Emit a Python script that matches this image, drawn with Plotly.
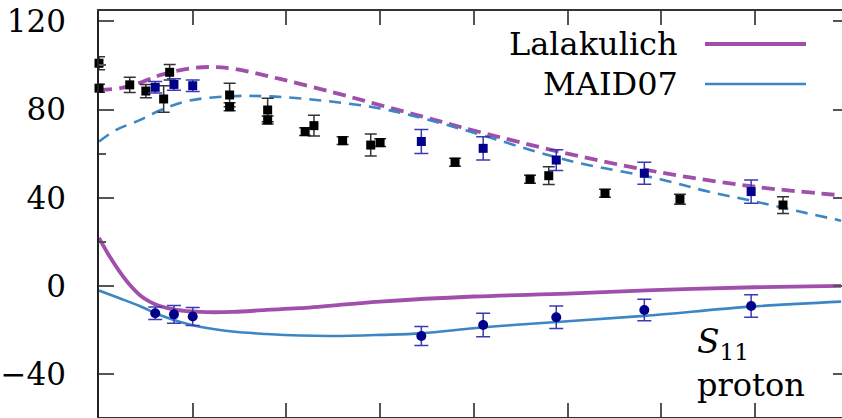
import plotly.graph_objects as go

# ---------------- data ----------------
# Theory curves (Q^2 in GeV^2, amplitude in 10^-3 GeV^-1/2)
lal_a_q2 = [0, 0.12, 0.23, 0.33, 0.48, 0.6, 0.72, 0.96, 1.25, 1.5, 1.75, 2.0, 2.5, 3.0, 3.5, 3.96]
lal_a_val = [88.9, 89.8, 92.5, 95.7, 98.6, 99.3, 98.5, 94.0, 87.8, 82.0, 76.3, 70.5, 60.0, 51.4, 45.0, 41.1]

maid_a_q2 = [0, 0.09, 0.22, 0.33, 0.48, 0.7, 0.9, 1.2, 1.5, 1.75, 2.0, 2.5, 3.0, 3.25, 3.5, 3.75, 3.96]
maid_a_val = [65.5, 70.7, 75.3, 79.8, 84.0, 86.0, 86.0, 84.0, 80.5, 75.5, 69.5, 57.0, 48.3, 42.8, 38.3, 33.5, 29.6]

lal_s_q2 = [0, 0.057, 0.11, 0.164, 0.217, 0.27, 0.324, 0.413, 0.537, 0.713, 0.893, 1.071, 1.5, 2.0, 2.5, 3.0, 3.5, 3.96]
lal_s_val = [21.8, 13.3, 6.5, 0.5, -4.1, -7.1, -9.1, -10.9, -11.8, -11.8, -10.9, -10.1, -7.1, -4.8, -3.5, -1.8, -0.6, 0.0]

maid_s_q2 = [0, 0.11, 0.217, 0.324, 0.43, 0.537, 0.713, 0.893, 1.071, 1.25, 1.5, 1.72, 2.0, 2.21, 2.5, 2.91, 3.48, 3.96]
maid_s_val = [-2.1, -5.6, -9.1, -13.2, -16.2, -18.5, -20.7, -21.8, -22.5, -22.7, -22.2, -21.5, -19.2, -17.7, -16.0, -13.6, -9.4, -7.1]

# World data A1/2 (black squares)
wd_q2 = [0, 0, 0.164, 0.25, 0.345, 0.377, 0.697, 0.697, 0.9, 0.9, 1.10, 1.147, 1.30, 1.45, 1.50, 1.90, 2.30, 2.40, 2.70, 3.10, 3.65]
wd_val = [101.0, 89.7, 91.2, 88.4, 84.8, 96.9, 86.6, 81.3, 79.8, 75.3, 70.0, 72.7, 65.9, 63.9, 65.0, 56.1, 48.4, 50.0, 42.0, 39.3, 36.7]
wd_err = [2.9, 1.8, 3.5, 3.0, 6.0, 3.5, 5.3, 1.8, 5.3, 1.8, 1.8, 4.7, 1.8, 5.0, 1.8, 1.8, 1.8, 4.0, 1.8, 2.3, 3.8]

# CLAS A1/2 (navy squares) and S1/2 (navy circles)
clas_q2 = [0.3, 0.4, 0.5, 1.72, 2.05, 2.44, 2.91, 3.48]
clas_a_val = [90.1, 91.4, 90.8, 65.5, 62.4, 57.1, 51.1, 42.8]
clas_a_err = [2.6, 2.6, 2.6, 5.4, 5.3, 4.7, 5.0, 5.3]
clas_s_val = [-12.4, -12.9, -13.9, -22.7, -17.7, -14.2, -10.9, -9.1]
clas_s_err = [2.8, 4.0, 4.1, 4.3, 5.3, 5.1, 4.9, 5.1]

y_ticks = [120, 80, 40, 0, -40]
y_tick_text = ["120", "80", "40", "0", "\u221240"]
y_minor = [100, 60, 20]
x_ticks = [0.5, 1.0, 1.5, 2.0, 2.5, 3.0, 3.5]

# ---------------- style ----------------
PURPLE = "#a04fab"
BLUE = "#3c87c3"
NAVY = "#00008b"
NAVY_ERR = "#3a3ab4"
FONT = "DejaVu Serif"

W, H = 842, 418
L, R, T, B = 99, 0, 11, 1
PW, PH = W - L - R, H - T - B


def px(x):
    return (x - L) / PW


def py(y):
    return (H - B - y) / PH


fig = go.Figure()

fig.add_trace(go.Scatter(x=lal_a_q2, y=lal_a_val, mode="lines", line_shape="spline",
                         line=dict(color=PURPLE, width=3.8, dash="13px,7px"), showlegend=False))
fig.add_trace(go.Scatter(x=maid_a_q2, y=maid_a_val, mode="lines", line_shape="spline",
                         line=dict(color=BLUE, width=2.6, dash="12px,8px"), showlegend=False))
fig.add_trace(go.Scatter(x=lal_s_q2, y=lal_s_val, mode="lines", line_shape="spline",
                         line=dict(color=PURPLE, width=3.8), showlegend=False))
fig.add_trace(go.Scatter(x=maid_s_q2, y=maid_s_val, mode="lines", line_shape="spline",
                         line=dict(color=BLUE, width=2.6), showlegend=False))

fig.add_trace(go.Scatter(x=wd_q2, y=wd_val, mode="markers", cliponaxis=False,
                         marker=dict(symbol="square", size=9, color="black"),
                         error_y=dict(type="data", array=wd_err, color="#333333", thickness=1.5, width=6),
                         showlegend=False))
fig.add_trace(go.Scatter(x=clas_q2, y=clas_a_val, mode="markers", cliponaxis=False,
                         marker=dict(symbol="square", size=9, color=NAVY),
                         error_y=dict(type="data", array=clas_a_err, color=NAVY_ERR, thickness=1.5, width=7),
                         showlegend=False))
fig.add_trace(go.Scatter(x=clas_q2, y=clas_s_val, mode="markers", cliponaxis=False,
                         marker=dict(symbol="circle", size=10, color=NAVY),
                         error_y=dict(type="data", array=clas_s_err, color=NAVY_ERR, thickness=1.5, width=7),
                         showlegend=False))
# empty trace to activate right-side tick axis
fig.add_trace(go.Scatter(x=[], y=[], yaxis="y2", showlegend=False))

x_range = [0, (W - R - L) / 187.4]
y_range = [-59.45, 124.7]

fig.update_layout(
    width=W, height=H,
    margin=dict(l=L, r=R, t=T, b=B),
    plot_bgcolor="white", paper_bgcolor="white",
    font=dict(family=FONT, color="black"),
    xaxis=dict(range=x_range, showgrid=False, zeroline=False, showline=True, linecolor="#333333",
               linewidth=1.5, mirror="ticks", ticks="inside", ticklen=14, tickwidth=1.5,
               tickcolor="#555555", tickvals=x_ticks, showticklabels=False),
    yaxis=dict(range=y_range, showgrid=False, zeroline=False, showline=True, linecolor="#222222",
               linewidth=1.6, mirror=False, ticks="inside", ticklen=15, tickwidth=1.5,
               tickcolor="#555555", tickvals=y_ticks, ticktext=y_tick_text,
               tickfont=dict(size=31, family=FONT, color="black"), ticklabelstandoff=25,
               minor=dict(tickvals=y_minor, ticks="inside", ticklen=7, tickwidth=1.5, tickcolor="#555555")),
    yaxis2=dict(range=y_range, overlaying="y", side="right", showgrid=False, zeroline=False,
                showline=False, ticks="inside", ticklen=9, tickwidth=1.5, tickcolor="#555555",
                tickvals=y_ticks, showticklabels=False),
)

# legend (text to the left of line sample)
for label, color, width, ypix in [("Lalakulich", PURPLE, 3.8, 44), ("MAID07", BLUE, 2.6, 84)]:
    fig.add_annotation(x=px(680), y=py(ypix), xref="paper", yref="paper", text=label,
                       showarrow=False, xanchor="right", yanchor="middle",
                       font=dict(size=32, family=FONT, color="black"))
    fig.add_shape(type="line", xref="paper", yref="paper", x0=px(705), x1=px(806),
                  y0=py(ypix), y1=py(ypix), line=dict(color=color, width=width))

fig.add_annotation(x=px(695), y=py(343), xref="paper", yref="paper",
                   text="<i>S</i><sub>11</sub>", showarrow=False, xanchor="left", yanchor="middle",
                   font=dict(size=33, family=FONT, color="black"))
fig.add_annotation(x=px(695), y=py(385), xref="paper", yref="paper",
                   text="proton", showarrow=False, xanchor="left", yanchor="middle",
                   font=dict(size=32, family=FONT, color="black"))

fig.write_html("out.html")
